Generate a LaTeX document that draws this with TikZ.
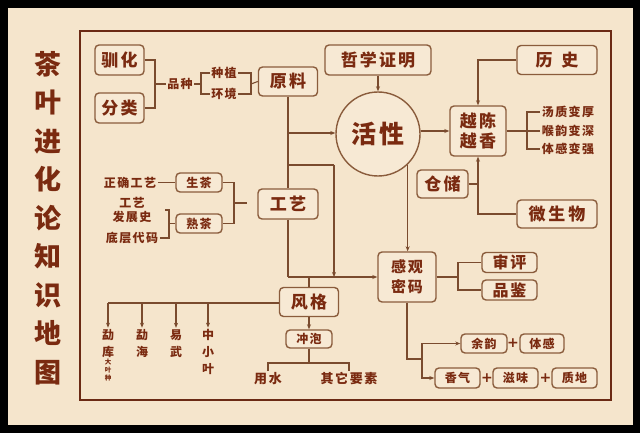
\documentclass[tikz,border=0pt]{standalone}
\usepackage{fontspec}
\newfontfamily\cjk{Noto Sans CJK SC}[LetterSpace=12]
\newfontfamily\plusfont{DejaVu Sans}
\usetikzlibrary{arrows.meta}
\definecolor{bg}{HTML}{F5E5CC}
\definecolor{boxfill}{HTML}{F7E9D4}
\definecolor{frm}{HTML}{6B2A14}
\definecolor{ln}{HTML}{7A4B2E}
\definecolor{bx}{HTML}{8A5C3C}
\definecolor{txt}{HTML}{7A2A10}
\newcommand\myfs[2]{\fontsize{#1}{#2}\selectfont}
\tikzset{
  box/.style={draw=bx, line width=1.4pt, rounded corners=4pt, fill=boxfill, text=txt, inner sep=0pt, align=center},
  bigt/.style={font=\cjk\bfseries\myfs{17}{20}},
  midt/.style={font=\cjk\bfseries\myfs{15}{20}},
  smt/.style={font=\cjk\bfseries\myfs{12}{14}},
  lbl/.style={text=txt, inner sep=1.5pt, align=center, font=\cjk\bfseries\myfs{12}{14}},
  con/.style={draw=ln, line width=1.1pt},
  arr/.style={con, -{Stealth[length=5pt,width=4pt]}},
  plus/.style={text=txt, inner sep=0pt, font=\plusfont\bfseries\myfs{14}{14}},
}
\begin{document}
\begin{tikzpicture}[x=1pt,y=-1pt]
\useasboundingbox (0,0) rectangle (640,433);
\fill[black] (0,0) rectangle (640,433);
\fill[bg] (8,8) rectangle (633,425);
\draw[frm, line width=2.6pt] (80,31) rectangle (611,400);

% title
\node[text=txt, align=center, font=\cjk\bfseries\myfs{27}{38.5}] (title) at (48,218)
  {茶\\叶\\进\\化\\论\\知\\识\\地\\图};

% left top
\node[box, bigt, minimum width=49pt, minimum height=30pt] (xh) at (119.5,60) {驯化};
\node[box, bigt, minimum width=49pt, minimum height=30pt] (fl) at (119.5,108) {分类};
\node[lbl] (pz) at (180,84) {品种};
\node[lbl] (zz) at (224,73) {种植};
\node[lbl] (hj) at (224,94) {环境};
\node[box, bigt, minimum width=59pt, minimum height=29pt] (yl) at (288,81.5) {原料};
\coordinate (b1) at (155,84);
\coordinate (b2) at (201,84);
\coordinate (b3) at (251,84);
\draw[con] (xh.east) -| (b1) |- (fl.east);
\draw[con] (b1) -- (pz.west);
\draw[con] (pz.east) -- (b2);
\draw[con] (zz.west) -| (b2) |- (hj.west);
\draw[con] (zz.east) -| (b3) |- (hj.east);
\draw[con] (b3) -- (yl.west);

% craft
\node[box, bigt, minimum width=60pt, minimum height=30pt] (gy) at (288,204) {工艺};
\node[box, smt, minimum width=46pt, minimum height=19pt] (sc) at (199,182.5) {生茶};
\node[box, smt, minimum width=46pt, minimum height=19pt] (shc) at (199,223.5) {熟茶};
\node[lbl] (zq) at (130,182.5) {正确工艺};
\node[lbl, font=\cjk\bfseries\myfs{12}{14}] (fz) at (132,210) {工艺\\发展史};
\node[lbl] (dc) at (132,238) {底层代码};
\coordinate (k0) at (165,210);
\coordinate (k1) at (169,210);
\coordinate (k4) at (169,223.5);
\coordinate (k5) at (234,203);
\coordinate (k6) at (247,203);
\draw[con] (zq.east) -- (sc.west);
\draw[con] (dc.east) -| (k1) -- (k0);
\draw[con] (k4) -- (shc.west);
\draw[con] (sc.east) -| (k5) |- (shc.east);
\draw[con] (k5) -- (k6);

% center
\node[box, bigt, minimum width=106pt, minimum height=30pt] (zx) at (378,60) {哲学证明};
\node[circle, draw=bx, line width=1.4pt, fill=boxfill, text=txt, minimum size=84pt, inner sep=0pt,
      font=\cjk\bfseries\myfs{25}{25}] (hx) at (378,134) {活性};
\node[box, midt, minimum width=58pt, minimum height=50pt] (gg) at (407,277) {感观\\密码};
\node[box, bigt, minimum width=59pt, minimum height=29pt] (fg) at (309,302) {风格};
\node[box, smt, minimum width=46pt, minimum height=18pt] (cp) at (309,339) {冲泡};
\node[lbl, font=\cjk\bfseries\myfs{13}{15}] (ys) at (268,379) {用水};
\node[lbl, font=\cjk\bfseries\myfs{13}{15}] (qt) at (349,379) {其它要素};

\coordinate (m1) at (288,133);
\coordinate (m2) at (288,165);
\coordinate (m3) at (288,277);
\coordinate (m4) at (334,165);
\coordinate (m5) at (334,277);
\coordinate (m6) at (309,277);
\draw[con] (yl.south) -- (gy.north);
\draw[con] (gy.south) -- (m3);
\draw[arr] (m1) -- (m1 -| hx.west);
\draw[con] (m2) -- (m4);
\draw[arr] (m4) -- (m5);
\draw[arr] (m3) -- (gg.west);
\draw[con] (m6) -- (fg.north);
\draw[arr] (zx.south) -- (hx.north);
\draw[arr] (hx.-46) -- (hx.-46 |- gg.north);

% style branches
\coordinate (a1) at (108,303);
\coordinate (a2) at (142,303);
\coordinate (a3) at (176,303);
\coordinate (a4) at (208,303);
\node[lbl, font=\cjk\bfseries\myfs{12}{17}] (t1) at (108,343.5) {勐\\库};
\node[text=txt, inner sep=0pt, align=center, font=\cjk\bfseries\myfs{6.5}{8}] (t1s) at (108,370) {大\\叶\\种};
\node[lbl, font=\cjk\bfseries\myfs{12}{17}] (t2) at (142,343.5) {勐\\海};
\node[lbl, font=\cjk\bfseries\myfs{12}{17}] (t3) at (176,343.5) {易\\武};
\node[lbl, font=\cjk\bfseries\myfs{12}{17}] (t4) at (208,352) {中\\小\\叶};
\draw[con] (fg.west |- a1) -- (a1);
\draw[arr] (a1) -- (t1.north);
\draw[arr] (a2) -- (t2.north);
\draw[arr] (a3) -- (t3.north);
\draw[arr] (a4) -- (t4.north);
\draw[arr] (fg.south) -- (cp.north);
\coordinate (c1) at (309,363);
\draw[con] (cp.south) -- (c1);
\draw[con] (ys.north) |- (c1) -| (qt.north);

% right side
\node[box, bigt, minimum width=56pt, minimum height=50pt] (yc) at (478,131) {越陈\\越香};
\node[box, bigt, minimum width=80pt, minimum height=29pt] (ls) at (557,60) {历\hspace{9pt}史};
\node[lbl] (q1) at (568,112) {汤质变厚};
\node[lbl] (q2) at (568,131) {喉韵变深};
\node[lbl] (q3) at (568,149) {体感变强};
\node[box, bigt, minimum width=51pt, minimum height=28pt] (cc) at (442.5,184) {仓储};
\node[box, bigt, minimum width=80pt, minimum height=28pt] (ws) at (557,214) {微\hspace{3pt}生\hspace{3pt}物};
\coordinate (r1) at (527,131);
\draw[arr] (hx.east |- yc.west) -- (yc.west);
\draw[arr] (ls.west) -| (yc.north);
\draw[con] (yc.east) -- (q2.west);
\draw[con] (q1.west) -| (r1) |- (q3.west);
\draw[con] (cc.east) -- (cc.east -| yc.south);
\draw[arr] (ws.west) -| (yc.south);

% evaluation
\node[box, font=\cjk\bfseries\myfs{16}{18}, minimum width=55pt, minimum height=20pt] (sp) at (509.5,262.5) {审评};
\node[box, font=\cjk\bfseries\myfs{16}{18}, minimum width=55pt, minimum height=20pt] (pj) at (509.5,290) {品鉴};
\coordinate (r2) at (458,277);
\draw[con] (gg.east) -- (r2);
\draw[con] (sp.west) -| (r2) |- (pj.west);

\node[box, smt, minimum width=46pt, minimum height=19pt] (yy) at (484,343.5) {余韵};
\node[plus] (p1) at (513,343.5) {+};
\node[box, smt, minimum width=44pt, minimum height=19pt] (tg) at (542,343.5) {体感};
\node[box, smt, minimum width=45pt, minimum height=20pt] (xq) at (457.5,378) {香气};
\node[plus] (p2) at (487,378) {+};
\node[box, smt, minimum width=45pt, minimum height=20pt] (zw) at (515.5,378) {滋味};
\node[plus] (p3) at (545.5,378) {+};
\node[box, smt, minimum width=45pt, minimum height=20pt] (zd) at (574.5,378) {质地};
\coordinate (g2) at (422,359);
\draw[con] (gg.south) |- (g2);
\draw[arr] (g2) |- (yy.west);
\draw[arr] (g2) |- (xq.west);
\end{tikzpicture}
\end{document}
